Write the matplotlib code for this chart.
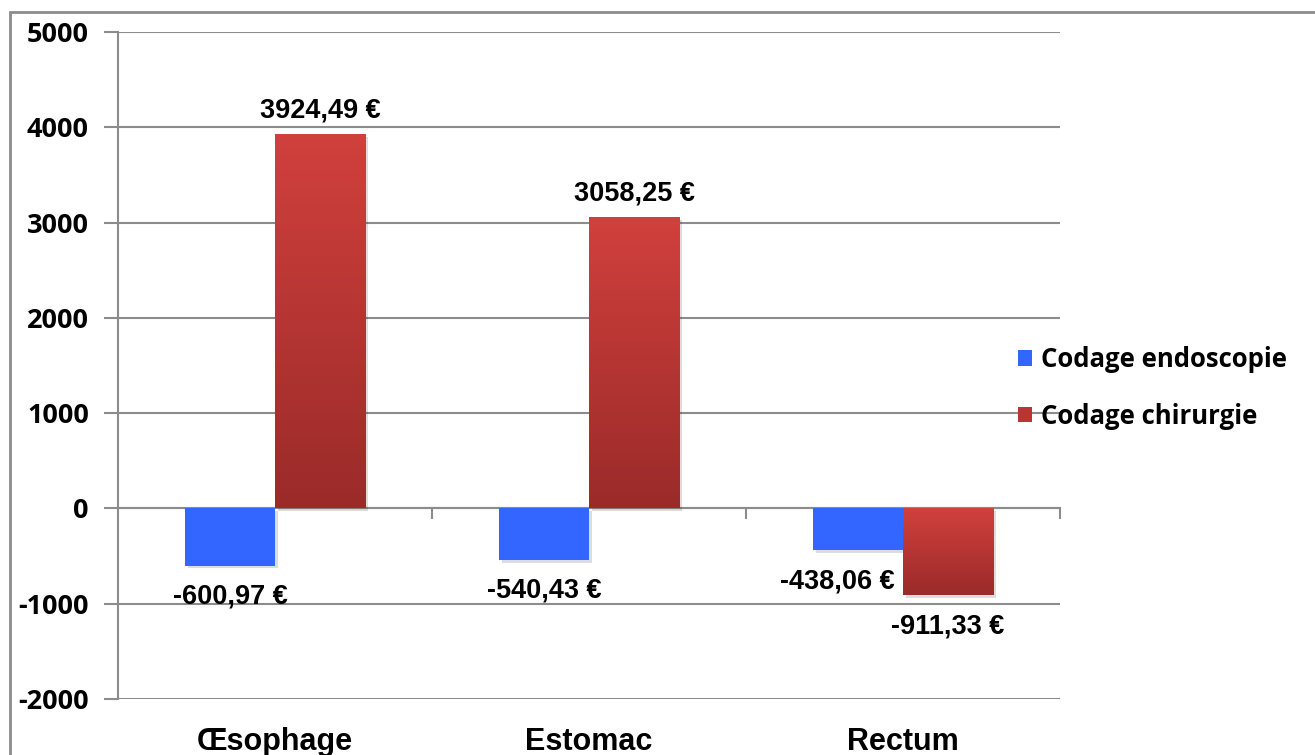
import numpy as np
import matplotlib.pyplot as plt
from matplotlib.patches import Rectangle, Patch
from matplotlib import patheffects as pe
from matplotlib.colors import LinearSegmentedColormap

categories = ['Œsophage', 'Estomac', 'Rectum']
endoscopie = [-600.97, -540.43, -438.06]
chirurgie = [3924.49, 3058.25, -911.33]
series_names = ['Codage endoscopie', 'Codage chirurgie']
yticks = [-2000, -1000, 0, 1000, 2000, 3000, 4000, 5000]


def euro(v):
    return ('%.2f €' % v).replace('.', ',')


fig = plt.figure(figsize=(13.15, 7.55), dpi=100)
ax = fig.add_axes([118 / 1315, 1 - 699 / 755, (1060 - 118) / 1315, (699 - 32) / 755])

# outer frame of the chart area
fig.patches.append(Rectangle((10 / 1315, -0.2), 1.2, 1.2 - 12 / 755,
                             transform=fig.transFigure, fill=False,
                             edgecolor='#8c8c8c', linewidth=2, zorder=0))

grid_c = '#8c8c8c'
x = np.arange(len(categories))
w = 0.287
blue = '#3366ff'
red_cmap = LinearSegmentedColormap.from_list('red', ['#d1403d', '#9a2b29'])
shadow = [pe.SimplePatchShadow(offset=(2, -2), alpha=0.15), pe.Normal()]

b1 = ax.bar(x - w / 2, endoscopie, w, color=blue, zorder=3, path_effects=shadow)
b2 = ax.bar(x + w / 2, chirurgie, w, color='#b83532', zorder=3, path_effects=shadow)

grad = np.linspace(0, 1, 256).reshape(-1, 1)
for r in b2:
    x0, y0 = r.get_x(), r.get_y()
    y_lo, y_hi = sorted([y0, y0 + r.get_height()])
    im = ax.imshow(grad, cmap=red_cmap, aspect='auto', origin='upper',
                   extent=(x0, x0 + r.get_width(), y_lo, y_hi), zorder=3.5)
    im.set_clip_path(r)

ax.set_xlim(-0.5, len(categories) - 0.5)
ax.set_ylim(-2000, 5000)

lab_font = dict(family='Liberation Sans', weight='bold', size=19.5)
for bars, vals in ((b1, endoscopie), (b2, chirurgie)):
    for r, v in zip(bars, vals):
        cx = r.get_x() + r.get_width() / 2
        dx = 0
        if bars is b1 and v == endoscopie[2]:
            dx = -15
        if v >= 0:
            ax.annotate(euro(v), (cx, v), xytext=(dx, 12), textcoords='offset points',
                        ha='center', va='baseline', zorder=5, **lab_font)
        else:
            ax.annotate(euro(v), (cx, v), xytext=(dx, -13), textcoords='offset points',
                        ha='center', va='top', zorder=5, **lab_font)

# grid lines
ax.set_yticks(yticks)
ax.set_yticklabels([str(t) for t in yticks], family='Open Sans', weight='bold', fontsize=19.5)
ax.yaxis.grid(True, color=grid_c, linewidth=1.5, zorder=0)
ax.tick_params(axis='y', length=10, width=1.5, color=grid_c, pad=11)

for s in ('top', 'right'):
    ax.spines[s].set_visible(False)
ax.spines['left'].set_color(grid_c)
ax.spines['left'].set_linewidth(1.5)
ax.spines['bottom'].set_position(('data', 0))
ax.spines['bottom'].set_color(grid_c)
ax.spines['bottom'].set_linewidth(1.5)
ax.spines['bottom'].set_zorder(2)
ax.set_xticks(np.arange(len(categories)) + 0.5)
ax.set_xticklabels([])
ax.tick_params(axis='x', length=8, width=1.5, color=grid_c, direction='out')

for i, c in enumerate(categories):
    ax.annotate(c, (i, -2000), xytext=(0, -20), textcoords='offset points',
                ha='center', va='top', family='Liberation Sans', weight='bold',
                fontsize=22, annotation_clip=False)

handles = [Patch(facecolor=blue), Patch(facecolor='#b83532')]
leg = fig.legend(handles, series_names, loc='center left',
                 bbox_to_anchor=(995 / 1315, 1 - 388 / 755), frameon=False,
                 prop=dict(family='Open Sans', weight='bold', size=18.5),
                 handlelength=0.55, handleheight=0.55, handletextpad=0.35,
                 labelspacing=1.15)

fig.savefig('out.png', dpi=100)
